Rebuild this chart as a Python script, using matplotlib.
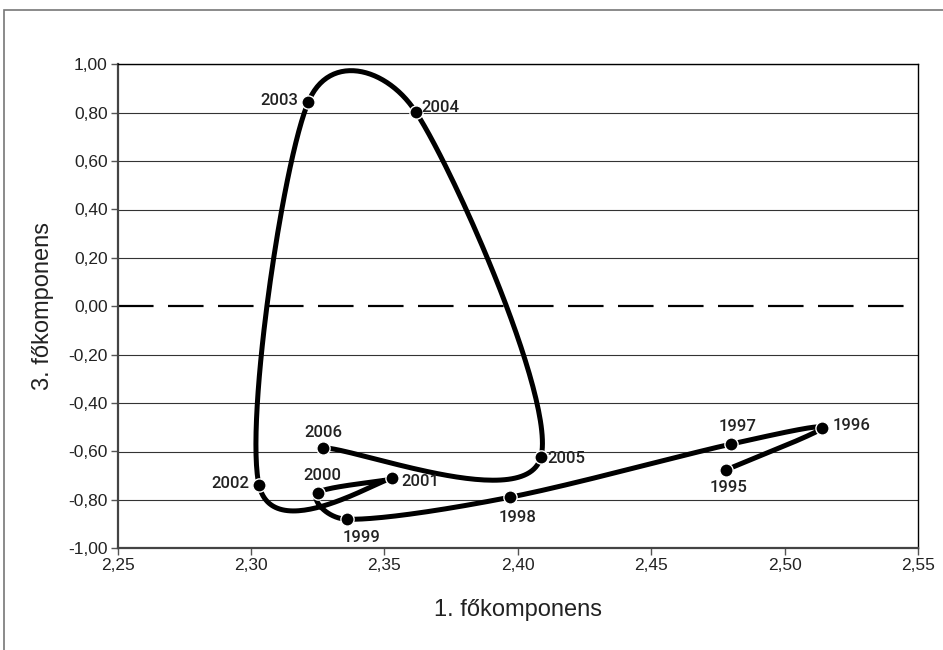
import numpy as np
import matplotlib
matplotlib.use('Agg')
import matplotlib.pyplot as plt
from matplotlib.patches import Rectangle
from matplotlib.ticker import FuncFormatter, MultipleLocator

years = ['1995', '1996', '1997', '1998', '1999', '2000',
         '2001', '2002', '2003', '2004', '2005', '2006']
pc1 = [2.478, 2.514, 2.480, 2.397, 2.336, 2.325,
       2.353, 2.303, 2.3215, 2.3617, 2.4086, 2.327]
pc3 = [-0.676, -0.502, -0.569, -0.789, -0.880, -0.770,
       -0.711, -0.738, 0.845, 0.804, -0.624, -0.584]

# label offsets in pixels (dx, dy) and alignment
lab_pos = {
    '1995': (2, -18, 'center'), '1996': (10, 2, 'left'),
    '1997': (6, 17, 'center'), '1998': (8, -20, 'center'),
    '1999': (14, -18, 'center'), '2000': (5, 17, 'center'),
    '2001': (9, -3, 'left'), '2002': (-10, 1, 'right'),
    '2003': (-10, 1, 'right'), '2004': (6, 4, 'left'),
    '2005': (7, -1, 'left'), '2006': (0, 15, 'center'),
}

plt.rcParams['font.family'] = ['Liberation Sans', 'DejaVu Sans']

fig = plt.figure(figsize=(9.43, 6.5), dpi=100)
fig.patches.append(Rectangle((4 / 943, -0.1), 2, 1.1 - 10 / 650, transform=fig.transFigure,
                             fill=False, edgecolor='#777777', linewidth=1.2))
ax = fig.add_axes([117.5 / 943, 1 - 548.3 / 650, (918.3 - 117.5) / 943, (548.3 - 64.3) / 650])
ax.set_xlim(2.25, 2.55)
ax.set_ylim(-1.0, 1.0)


def smooth(px, py):
    # excel-like bezier smoothing, computed in pixel space
    pts = ax.transData.transform(np.column_stack([px, py]))
    n = len(pts)
    out = [pts[0]]
    for i in range(n - 1):
        p0 = pts[max(i - 1, 0)]
        p1 = pts[i]
        p2 = pts[i + 1]
        p3 = pts[min(i + 2, n - 1)]
        d02 = np.hypot(*(p2 - p0))
        d12 = np.hypot(*(p2 - p1))
        d13 = np.hypot(*(p3 - p1))
        f1 = 1 / 6 if d02 / 6 < d12 / 2 else d12 / (2 * d02)
        f2 = 1 / 6 if d13 / 6 < d12 / 2 else d12 / (2 * d13)
        c1 = p1 + f1 * (p2 - p0)
        c2 = p2 - f2 * (p3 - p1)
        t = np.linspace(0, 1, 60)[1:, None]
        seg = ((1 - t) ** 3) * p1 + 3 * ((1 - t) ** 2) * t * c1 + 3 * (1 - t) * t ** 2 * c2 + t ** 3 * p2
        out.extend(seg)
    out = ax.transData.inverted().transform(np.array(out))
    return out[:, 0], out[:, 1]


for v in np.arange(-1.0, 1.01, 0.2):
    if abs(v) < 1e-9:
        continue
    ax.axhline(v, color='#333333', linewidth=0.8, zorder=1)
zl = ax.axhline(0, color='black', linewidth=1.6, zorder=1)
zl.set_dashes((16, 6.5))

sx, sy = smooth(pc1, pc3)
ax.plot(sx, sy, color='black', linewidth=3.6, solid_capstyle='round',
        solid_joinstyle='round', zorder=3)
ax.plot(pc1, pc3, linestyle='none', marker='o', markersize=9.5, markerfacecolor='black',
        markeredgecolor='white', markeredgewidth=1.0, zorder=4)

for yr, x, y in zip(years, pc1, pc3):
    dx, dy, ha = lab_pos[yr]
    ax.annotate(yr, (x, y), xytext=(dx * 0.72, dy * 0.72), textcoords='offset points',
                ha=ha, va='center', fontsize=12, color='#222222',
                family=['Roboto', 'DejaVu Sans'], fontweight='medium', zorder=5)

ax.xaxis.set_major_locator(MultipleLocator(0.05))
ax.yaxis.set_major_locator(MultipleLocator(0.2))
fmt = FuncFormatter(lambda v, p: f'{v:.2f}'.replace('.', ','))
ax.xaxis.set_major_formatter(fmt)
ax.yaxis.set_major_formatter(fmt)
ax.tick_params(axis='both', direction='out', length=5, width=1, color='#555555',
               labelsize=12.5, labelcolor='#222222', pad=2)
for s in ax.spines.values():
    s.set_color('black')
    s.set_linewidth(1)
ax.spines['left'].set_color('#444444')
ax.spines['left'].set_linewidth(1.6)
ax.spines['bottom'].set_color('#444444')
ax.spines['bottom'].set_linewidth(1.6)

ax.set_xlabel('1. főkomponens', fontsize=17, color='#222222', labelpad=19)
ax.set_ylabel('3. főkomponens', fontsize=17, color='#222222', labelpad=10)

fig.savefig('out.png', dpi=100)
